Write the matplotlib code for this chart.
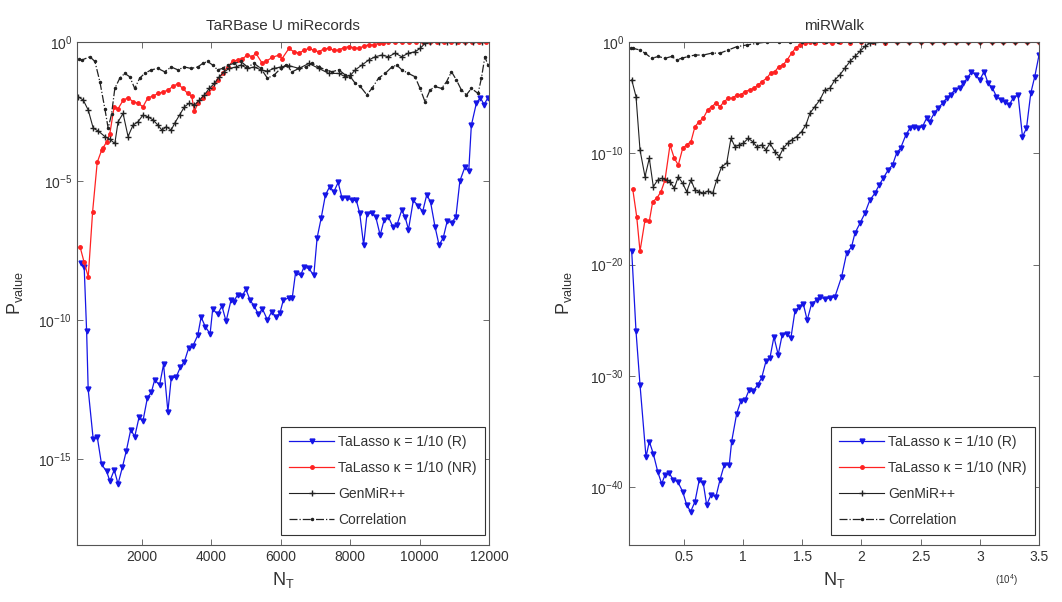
import matplotlib
matplotlib.use('Agg')
import matplotlib.pyplot as plt
import numpy as np
from matplotlib.ticker import FixedLocator, FuncFormatter, NullLocator, LogFormatterSciNotation

plt.rcParams['font.family'] = ['Liberation Sans', 'DejaVu Sans']
plt.rcParams['mathtext.fontset'] = 'custom'
plt.rcParams['mathtext.rm'] = 'Liberation Sans'
plt.rcParams['mathtext.it'] = 'Liberation Sans:italic'
plt.rcParams['mathtext.bf'] = 'Liberation Sans:bold'

# ---- TaRBase U miRecords (log10 p-value vs N_T) ----
L_blue_N = [250, 345, 415, 460, 605, 720, 845, 990, 1085, 1210, 1320, 1445, 1560, 1685, 1800, 1925, 2035,
            2165, 2280, 2375, 2515, 2630, 2755, 2850, 2995, 3115, 3230, 3355, 3470, 3615, 3710, 3835, 3970,
            4045, 4185, 4310, 4430, 4570, 4645, 4760, 4885, 5000, 5125, 5240, 5360, 5475, 5620, 5745, 5860,
            5980, 6075, 6240, 6335, 6430, 6575, 6670, 6815, 6955, 7050, 7165, 7290, 7415, 7530, 7655, 7765,
            7910, 8055, 8180, 8275, 8390, 8485, 8625, 8740, 8865, 8980, 9105, 9230, 9345, 9485, 9585, 9680,
            9820, 9965, 10090, 10205, 10315, 10445, 10560, 10680, 10795, 10920, 11045, 11160, 11305, 11415,
            11490, 11635, 11750, 11855, 11970]
L_blue_p = [-7.95, -8.1, -10.4, -12.5, -14.3, -14.2, -15.2, -15.45, -15.8, -15.4, -15.9, -15.3, -14.7, -13.95,
            -14.2, -13.5, -13.65, -12.8, -12.6, -12.15, -12.35, -11.6, -13.3, -12.1, -12.05, -11.7, -11.5, -11.0,
            -10.95, -10.55, -9.9, -10.25, -10.5, -9.6, -9.8, -9.5, -10.05, -9.3, -9.35, -9.1, -9.15, -8.9, -9.3,
            -9.5, -9.8, -9.6, -10.0, -9.7, -9.9, -9.75, -9.3, -9.2, -9.2, -8.3, -8.4, -8.1, -8.15, -8.4, -7.05,
            -6.35, -5.5, -5.2, -5.4, -5.05, -5.6, -5.6, -5.7, -5.7, -6.15, -7.3, -6.2, -6.15, -6.3, -6.95, -6.4,
            -6.3, -6.65, -6.6, -6.05, -6.3, -6.75, -5.7, -5.9, -6.1, -5.5, -5.75, -6.65, -7.3, -7.05, -6.45,
            -6.5, -6.3, -5.0, -4.5, -4.65, -3.0, -2.2, -2.0, -2.25, -2.0]

L_red_N = [224, 338, 462, 588, 720, 846, 891, 989, 1083, 1207, 1321, 1464, 1608, 1751, 1894, 2037, 2181,
           2324, 2467, 2610, 2754, 2897, 3040, 3183, 3327, 3441, 3519, 3613, 3757, 3900, 4043, 4186, 4329,
           4472, 4616, 4759, 4902, 5046, 5189, 5286, 5467, 5573, 5760, 5954, 6040, 6240, 6380, 6527, 6670,
           6813, 6950, 7100, 7240, 7386, 7530, 7673, 7820, 7959, 8100, 8246, 8390, 8532, 8680, 8819, 8960,
           9105, 9300, 9500, 9700, 9900, 10100, 10300, 10500, 10700, 10900, 11100, 11300, 11500, 11700, 11900]
L_red_p = [-7.36, -7.9, -8.45, -6.1, -4.33, -3.9, -3.8, -3.6, -3.3, -2.33, -2.4, -2.1, -2.0, -2.15, -2.2,
           -2.33, -2.0, -1.95, -1.85, -1.8, -1.73, -1.6, -1.5, -1.67, -1.85, -1.95, -2.5, -2.2, -2.0, -1.85,
           -1.67, -1.37, -1.13, -0.9, -0.7, -0.65, -0.6, -0.47, -0.53, -0.4, -0.76, -0.7, -0.55, -0.47, -0.6,
           -0.23, -0.35, -0.4, -0.3, -0.23, -0.3, -0.35, -0.25, -0.23, -0.3, -0.29, -0.2, -0.17, -0.2, -0.23,
           -0.15, -0.1, -0.1, -0.05, -0.03, 0, 0, 0, 0, 0, 0, 0, 0, 0, 0, 0, 0, 0, 0, 0]

L_gen_N = [175, 318, 462, 605, 748, 940, 1083, 1227, 1321, 1464, 1608, 1751, 1894, 2037, 2181, 2324, 2467,
           2582, 2708, 2851, 2946, 3089, 3232, 3375, 3519, 3662, 3805, 3948, 4092, 4235, 4378, 4521, 4713,
           4857, 5046, 5238, 5429, 5619, 5811, 6002, 6240, 6527, 6813, 7100, 7386, 7673, 7865, 8008, 8151,
           8340, 8532, 8724, 8913, 9105, 9297, 9487, 9679, 9870, 10013, 10157, 10300, 10550, 10800, 11050,
           11300, 11550, 11800]
L_gen_p = [-1.97, -2.09, -2.45, -3.1, -3.2, -3.4, -3.5, -3.65, -2.87, -2.57, -3.4, -2.99, -2.87, -2.63, -2.69,
           -2.8, -2.99, -3.17, -3.05, -3.17, -2.93, -2.63, -2.33, -2.2, -2.27, -2.09, -1.9, -1.67, -1.49, -1.25,
           -1.07, -0.95, -0.9, -0.83, -0.95, -0.9, -1.0, -1.05, -0.95, -0.9, -0.85, -0.95, -0.77, -0.95, -1.13,
           -1.13, -1.25, -1.2, -1.0, -0.83, -0.65, -0.53, -0.47, -0.53, -0.4, -0.53, -0.4, -0.35, -0.23, -0.05,
           0, 0, 0, 0, 0, 0, 0]

L_cor_N = [200, 273, 510, 654, 797, 940, 1035, 1132, 1227, 1370, 1513, 1656, 1800, 1943, 2086, 2278, 2467,
           2659, 2851, 3040, 3232, 3424, 3613, 3757, 3900, 4043, 4186, 4329, 4472, 4665, 4857, 5046, 5238,
           5429, 5619, 5811, 6002, 6146, 6335, 6527, 6719, 6908, 7100, 7292, 7481, 7673, 7865, 8008, 8151,
           8294, 8483, 8627, 8819, 9011, 9200, 9343, 9487, 9679, 9870, 10013, 10157, 10300, 10443, 10632,
           10776, 10919, 11062, 11205, 11348, 11492, 11684, 11780, 11880, 11970]
L_cor_p = [-0.6, -0.65, -0.53, -0.7, -1.43, -2.4, -3.1, -2.6, -1.67, -1.3, -1.13, -1.25, -1.67, -1.3, -1.13,
           -1.0, -0.95, -1.07, -0.9, -1.0, -0.9, -0.95, -0.9, -0.77, -0.7, -0.83, -1.0, -0.95, -0.83, -0.77,
           -0.7, -0.9, -0.77, -0.95, -1.3, -1.19, -0.95, -0.83, -1.07, -0.95, -0.9, -0.77, -0.9, -1.0, -1.07,
           -1.0, -1.19, -1.25, -1.49, -1.6, -1.9, -1.67, -1.3, -1.13, -0.9, -0.83, -1.0, -1.13, -1.25, -1.67,
           -2.15, -1.73, -1.6, -1.67, -1.43, -1.07, -1.37, -1.73, -1.9, -1.67, -1.85, -1.3, -0.53, -0.83]

# ---- miRWalk ----
R_blue_N = [582, 946, 1283, 1790, 2069, 2407, 2779, 3116, 3395, 3758, 4096, 4468, 4890, 5228, 5566, 5929,
            6292, 6630, 6917, 7280, 7703, 8041, 8404, 8826, 9029, 9452, 9789, 10152, 10490, 10853, 11225,
            11562, 11925, 12263, 12601, 12964, 13302, 13674, 14037, 14375, 14738, 15076, 15414, 15786, 16208,
            16487, 16909, 17331, 17754, 18319, 18742, 19164, 19443, 19865, 20287, 20709, 21132, 21495, 21833,
            22255, 22627, 22965, 23303, 23750, 24089, 24427, 24790, 25161, 25499, 25777, 26141, 26479, 26850,
            27188, 27526, 27888, 28311, 28590, 28961, 29299, 29662, 30000, 30363, 30701, 31073, 31411, 31774,
            32112, 32475, 32813, 33235, 33607, 33945, 34308, 34646, 35000]
R_blue_p = [-18.8, -26.0, -30.8, -37.3, -35.9, -37.0, -38.6, -39.7, -38.9, -38.75, -39.35, -39.5, -40.4, -41.6,
            -42.2, -41.3, -39.35, -39.65, -41.6, -40.7, -40.85, -39.35, -38.0, -38.0, -35.9, -33.4, -32.3, -32.2,
            -31.3, -31.4, -30.8, -30.2, -28.7, -28.4, -26.5, -28.1, -26.3, -26.2, -26.6, -24.2, -23.8, -23.5,
            -25.0, -23.5, -23.2, -22.9, -23.1, -23.0, -22.9, -21.1, -19.0, -18.4, -17.2, -16.3, -15.4, -14.2,
            -13.6, -12.85, -12.25, -11.5, -11.05, -10.0, -9.55, -8.35, -7.75, -7.6, -7.75, -7.6, -6.85, -7.15,
            -6.4, -5.95, -5.5, -5.05, -4.75, -4.3, -4.15, -3.7, -3.25, -2.65, -2.95, -3.4, -2.65, -3.7, -4.15,
            -4.9, -5.2, -5.35, -5.65, -5.05, -4.75, -8.5, -7.75, -4.6, -3.1, -1.2]

R_red_N = [667, 1005, 1283, 1706, 2069, 2356, 2694, 3057, 3395, 3818, 4181, 4519, 4890, 5228, 5591, 5929,
           6292, 6630, 7002, 7340, 7703, 8041, 8404, 8742, 9114, 9452, 9814, 10152, 10575, 10912, 11275, 11613,
           11984, 12322, 12685, 13023, 13387, 13725, 14096, 14434, 14797, 15220, 15642, 16100, 16800, 17500,
           18200, 19000, 20000, 21000, 22000, 23000, 24000, 25000, 26000, 27000, 28000, 29000, 30000, 31000,
           32000, 33000, 34000, 35000]
R_red_p = [-13.2, -15.7, -18.8, -16.0, -16.1, -14.35, -14.05, -13.45, -12.4, -9.25, -10.45, -11.05, -9.55, -9.25,
           -8.95, -7.6, -7.15, -6.85, -6.1, -5.8, -5.5, -5.8, -5.35, -5.05, -5.05, -4.75, -4.75, -4.45, -4.3,
           -4.15, -3.85, -3.55, -3.25, -2.8, -2.65, -2.2, -2.05, -1.6, -1.0, -0.55, -0.25, -0.1, 0, -0.05, 0,
           -0.1, 0, -0.05, 0, 0, -0.05, 0, 0, 0, 0, 0, 0, 0, 0, 0, 0, 0, 0, 0]

R_gen_N = [582, 946, 1283, 1706, 2069, 2407, 2779, 3116, 3539, 3818, 4181, 4519, 4890, 5228, 5591, 5929, 6292,
           6630, 7002, 7424, 7762, 8184, 8607, 8970, 9308, 9671, 10009, 10431, 10803, 11140, 11562, 11925,
           12263, 12685, 13049, 13387, 13759, 14096, 14519, 14941, 15304, 15642, 16064, 16487, 16909, 17331,
           17754, 18176, 18598, 19020, 19443, 19865, 20287, 20709, 21132, 22000, 23000, 24000, 25000, 26000,
           27000, 28000, 29000, 30000, 31000, 32000, 33000, 34000, 35000]
R_gen_p = [-3.4, -4.9, -9.7, -12.1, -10.45, -13.0, -12.4, -12.25, -12.4, -12.55, -13.15, -12.1, -12.7, -13.45,
           -12.4, -13.3, -13.45, -13.6, -13.4, -13.6, -12.4, -11.2, -10.9, -8.65, -9.4, -9.25, -9.1, -8.65,
           -8.95, -9.4, -9.25, -9.7, -9.1, -9.85, -10.3, -9.55, -9.1, -8.8, -8.5, -8.05, -7.45, -6.4, -5.8,
           -5.2, -4.3, -4.15, -3.4, -2.95, -2.35, -1.75, -1.3, -0.85, -0.4, -0.1, 0, 0, 0, 0, 0, 0, 0, 0, 0,
           0, 0, 0, 0, 0, 0]

R_cor_N = [500, 718, 1283, 1706, 2272, 2829, 3395, 3961, 4383, 4806, 5363, 5929, 6630, 7340, 8041, 8742, 9452,
           10296, 11140, 11984, 13000, 14000, 15000, 16000, 17000, 18000, 19000, 20000, 21000, 22000, 23000,
           24000, 25000, 26000, 27000, 28000, 29000, 30000, 31000, 32000, 33000, 34000, 35000]
R_cor_p = [-0.5, -0.57, -0.72, -1.0, -1.46, -1.3, -1.46, -1.3, -1.6, -1.46, -1.3, -1.17, -1.17, -1.0, -1.0,
           -0.72, -0.42, -0.27, -0.12, 0, 0, 0, 0, 0, 0, 0, 0, 0, 0, 0, 0, 0, 0, 0, 0, 0, 0, 0, 0, 0, 0, 0, 0]

labels = ['TaLasso \u03ba = 1/10 (R)', 'TaLasso \u03ba = 1/10 (NR)', 'GenMiR++', 'Correlation']
styles = [dict(color='#1515e6', marker='v', ms=3.5, lw=0.9, ls='-'),
          dict(color='#ff2222', marker='.', ms=5, lw=0.9, ls='-'),
          dict(color='#222222', marker='+', ms=4, lw=0.8, ls='-'),
          dict(color='#222222', marker='.', ms=3, lw=0.9, ls='-.')]

frame = '#555555'
txt = '#333333'


def draw_panel(ax, series, title, xlim, ybottom, yticks):
    for (N, lp), st, lab in zip(series, styles, labels):
        ax.plot(N, 10.0 ** np.array(lp), label=lab, **st)
    ax.set_yscale('log')
    ax.set_xlim(*xlim)
    ax.set_ylim(10.0 ** ybottom, 1.0)
    ax.yaxis.set_major_locator(FixedLocator([10.0 ** e for e in yticks]))
    ax.yaxis.set_major_formatter(LogFormatterSciNotation())
    ax.yaxis.set_minor_locator(NullLocator())
    ax.tick_params(direction='in', top=True, right=True, length=4, width=0.6,
                   color=frame, labelcolor=txt, labelsize=10)
    for s in ax.spines.values():
        s.set_color(frame)
        s.set_linewidth(0.8)
    ax.set_title(title, fontsize=11, color=txt, pad=9)
    ax.set_ylabel('P$_{\\mathrm{value}}$', fontsize=13, color=txt)
    ax.set_xlabel('N$_{\\mathrm{T}}$', fontsize=13, color=txt)
    ax.xaxis.set_label_coords(0.5, -0.05)
    leg = ax.legend(loc='lower right', bbox_to_anchor=(0.99, 0.02), borderaxespad=0,
                    fontsize=10, fancybox=False, framealpha=1, edgecolor='#333333',
                    handlelength=3.2, labelspacing=0.85, borderpad=0.6, handletextpad=0.3)
    leg.get_frame().set_linewidth(0.8)
    for t in leg.get_texts():
        t.set_color(txt)


fig = plt.figure(figsize=(10.62, 6.02), dpi=100)
ax1 = fig.add_axes([0.0725, 0.0947, 0.388, 0.8355])
ax2 = fig.add_axes([0.5923, 0.0947, 0.386, 0.8355])

draw_panel(ax1, [(L_blue_N, L_blue_p), (L_red_N, L_red_p), (L_gen_N, L_gen_p), (L_cor_N, L_cor_p)],
           'TaRBase U miRecords', (138, 12000), -18.1, [-15, -10, -5, 0])
ax1.xaxis.set_major_locator(FixedLocator([2000, 4000, 6000, 8000, 10000, 12000]))
ax1.yaxis.set_label_coords(-0.125, 0.5)

draw_panel(ax2, [(R_blue_N, R_blue_p), (R_red_N, R_red_p), (R_gen_N, R_gen_p), (R_cor_N, R_cor_p)],
           'miRWalk', (355, 35000), -45.2, [-40, -30, -20, -10, 0])
ax2.xaxis.set_major_locator(FixedLocator([5000, 10000, 15000, 20000, 25000, 30000, 35000]))
ax2.xaxis.set_major_formatter(FuncFormatter(lambda v, p: f'{v / 1e4:g}'))
ax2.yaxis.set_label_coords(-0.135, 0.5)
ax2.text(0.92, -0.07, '(10$^{4}$)', transform=ax2.transAxes, fontsize=7, color=txt,
         ha='center', va='center')

fig.savefig('out.png', dpi=100)
